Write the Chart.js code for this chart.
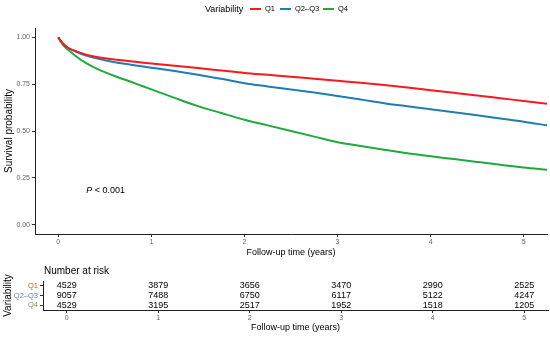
<!DOCTYPE html>
<html><head><meta charset="utf-8">
<script src="https://cdn.jsdelivr.net/npm/chart.js@4.4.1/dist/chart.umd.min.js"></script>
<style>
html,body{margin:0;padding:0;background:#fff;}
#wrap{position:relative;width:550px;height:337px;overflow:hidden;font-family:"Liberation Sans",Arial,sans-serif;}
#main{position:absolute;left:0;top:0;}
#risk{position:absolute;left:0;top:262px;}
.lg{position:absolute;top:3px;line-height:12px;color:#000;white-space:nowrap;}
.sw{position:absolute;top:8px;height:2px;width:11px;}
</style></head>
<body><div id="wrap">
<canvas id="main" width="550" height="262"></canvas>
<canvas id="risk" width="550" height="75"></canvas>
<div class="lg" style="left:205px;font-size:9px;">Variability</div>
<div class="sw" style="left:250px;background:#F8191E;"></div>
<div class="lg" style="left:265px;font-size:7.5px;">Q1</div>
<div class="sw" style="left:280px;background:#1F7CB4;"></div>
<div class="lg" style="left:295px;font-size:7.5px;">Q2–Q3</div>
<div class="sw" style="left:323px;background:#1EAA3E;"></div>
<div class="lg" style="left:338px;font-size:7.5px;">Q4</div>
</div>
<script>
// ---- data ----
const groups = ['Q1', 'Q2–Q3', 'Q4'];
const times = [0, 0.05, 0.1, 0.2, 0.3, 0.4, 0.5, 0.625, 0.75, 0.875, 1, 1.25, 1.5, 1.75, 2, 2.25, 2.5, 2.75, 3, 3.25, 3.5, 3.75, 4, 4.25, 4.5, 4.75, 5, 5.25];
const survQ1 = [1, 0.966, 0.946, 0.924, 0.908, 0.897, 0.889, 0.881, 0.874, 0.867, 0.86, 0.848, 0.836, 0.823, 0.81, 0.80, 0.79, 0.779, 0.768, 0.757, 0.745, 0.732, 0.718, 0.704, 0.69, 0.675, 0.66, 0.645];
const survQ23 = [1, 0.966, 0.946, 0.922, 0.903, 0.889, 0.878, 0.866, 0.856, 0.847, 0.838, 0.82, 0.80, 0.779, 0.755, 0.738, 0.722, 0.705, 0.687, 0.668, 0.648, 0.632, 0.616, 0.60, 0.584, 0.567, 0.55, 0.53];
const survQ4 = [1, 0.96, 0.936, 0.895, 0.862, 0.836, 0.814, 0.79, 0.768, 0.745, 0.722, 0.677, 0.633, 0.596, 0.56, 0.53, 0.50, 0.47, 0.44, 0.42, 0.40, 0.381, 0.365, 0.35, 0.335, 0.32, 0.305, 0.293];
const riskTimes = [0, 1, 2, 3, 4, 5];
const riskQ1 = [4529, 3879, 3656, 3470, 2990, 2525];
const riskQ23 = [9057, 7488, 6750, 6117, 5122, 4247];
const riskQ4 = [4529, 3195, 2517, 1952, 1518, 1205];
const yTicks = [0, 0.25, 0.5, 0.75, 1];
const pText = '< 0.001';

const colors = ['#F8191E', '#1F7CB4', '#1EAA3E'];
const labelColors = ['#A8682E', '#6C7CC8', '#6E9C50'];
const FONT = '"Liberation Sans", Arial, sans-serif';

const survAll = [survQ1, survQ23, survQ4];
const mainDatasets = groups.map((g, i) => ({
  label: g,
  data: times.map((t, k) => ({x: t, y: survAll[i][k]})),
  borderColor: colors[i],
  backgroundColor: colors[i],
  borderWidth: 2,
  pointRadius: 0,
  cubicInterpolationMode: 'monotone',
  fill: false
}));

const axisCommon = {
  grid: {display: true, drawOnChartArea: false, drawTicks: true, tickLength: 3, color: '#333'},
  border: {display: true, color: '#222', width: 1},
};

const pPlugin = {
  id: 'ptext',
  afterDraw(chart) {
    const {ctx, scales} = chart;
    const x = scales.x.getPixelForValue(0.30);
    const y = scales.y.getPixelForValue(0.183);
    ctx.save();
    ctx.fillStyle = '#000';
    ctx.textBaseline = 'middle';
    ctx.textAlign = 'left';
    ctx.font = 'italic 9px ' + FONT;
    ctx.fillText('P', x, y);
    const w = ctx.measureText('P ').width;
    ctx.font = '9px ' + FONT;
    ctx.fillText(pText, x + w, y);
    ctx.restore();
  }
};

new Chart(document.getElementById('main'), {
  type: 'line',
  data: {datasets: mainDatasets},
  options: {
    responsive: false,
    animation: false,
    devicePixelRatio: 1,
    layout: {padding: {top: 28, right: 3, left: 0, bottom: 0}},
    plugins: {legend: {display: false}, tooltip: {enabled: false}},
    scales: {
      x: {
        type: 'linear', min: -0.25, max: 5.25,
        afterBuildTicks: s => { s.ticks = riskTimes.map(v => ({value: v})); },
        afterFit: s => { s.height = 28; },
        ticks: {color: '#666', font: {size: 7, family: FONT}, padding: 1, maxRotation: 0},
        title: {display: true, text: 'Follow-up time (years)', color: '#000', font: {size: 9, family: FONT}, padding: {top: 0, bottom: 4}},
        ...axisCommon
      },
      y: {
        type: 'linear', min: -0.05, max: 1.05,
        afterBuildTicks: s => { s.ticks = yTicks.map(v => ({value: v})); },
        afterFit: s => { s.width = 35; },
        ticks: {color: '#666', font: {size: 7, family: FONT}, padding: 2, callback: v => v.toFixed(2)},
        title: {display: true, text: 'Survival probability', color: '#000', font: {size: 10, family: FONT}, padding: {top: 3, bottom: 0}},
        ...axisCommon
      }
    }
  },
  plugins: [pPlugin]
});

// ---- risk table ----
const riskAll = [riskQ1, riskQ23, riskQ4];
const riskDatasets = groups.map((g, i) => ({
  label: g,
  data: riskTimes.map(t => ({x: t, y: g})),
  counts: riskAll[i],
  pointRadius: 0,
  showLine: false
}));

const riskPlugin = {
  id: 'risktext',
  afterDraw(chart) {
    const {ctx, chartArea} = chart;
    ctx.save();
    ctx.fillStyle = '#000';
    ctx.textBaseline = 'middle';
    ctx.textAlign = 'center';
    ctx.font = '9px ' + FONT;
    chart.data.datasets.forEach((ds, i) => {
      const meta = chart.getDatasetMeta(i);
      meta.data.forEach((pt, k) => {
        ctx.fillText(String(ds.counts[k]), pt.x, pt.y);
      });
    });
    ctx.textAlign = 'left';
    ctx.font = '10px ' + FONT;
    ctx.fillText('Number at risk', chartArea.left + 1, 9);
    ctx.restore();
  }
};

new Chart(document.getElementById('risk'), {
  type: 'scatter',
  data: {datasets: riskDatasets},
  options: {
    responsive: false,
    animation: false,
    devicePixelRatio: 1,
    layout: {padding: {top: 19, right: 2, left: 0, bottom: 0}},
    plugins: {legend: {display: false}, tooltip: {enabled: false}},
    scales: {
      x: {
        type: 'linear', min: -0.26, max: 5.26,
        afterBuildTicks: s => { s.ticks = riskTimes.map(v => ({value: v})); },
        afterFit: s => { s.height = 27; },
        ticks: {color: '#666', font: {size: 7, family: FONT}, padding: 1, maxRotation: 0},
        title: {display: true, text: 'Follow-up time (years)', color: '#000', font: {size: 9, family: FONT}, padding: {top: 0, bottom: 4}},
        ...axisCommon
      },
      y: {
        type: 'category', labels: groups, offset: true,
        afterFit: s => { s.width = 43; },
        ticks: {color: labelColors, font: {size: 7.5, family: FONT}, padding: 2, autoSkip: false},
        title: {display: true, text: 'Variability', color: '#000', font: {size: 10, family: FONT}, padding: {top: 2, bottom: 0}},
        ...axisCommon
      }
    }
  },
  plugins: [riskPlugin]
});
</script>
</body></html>
